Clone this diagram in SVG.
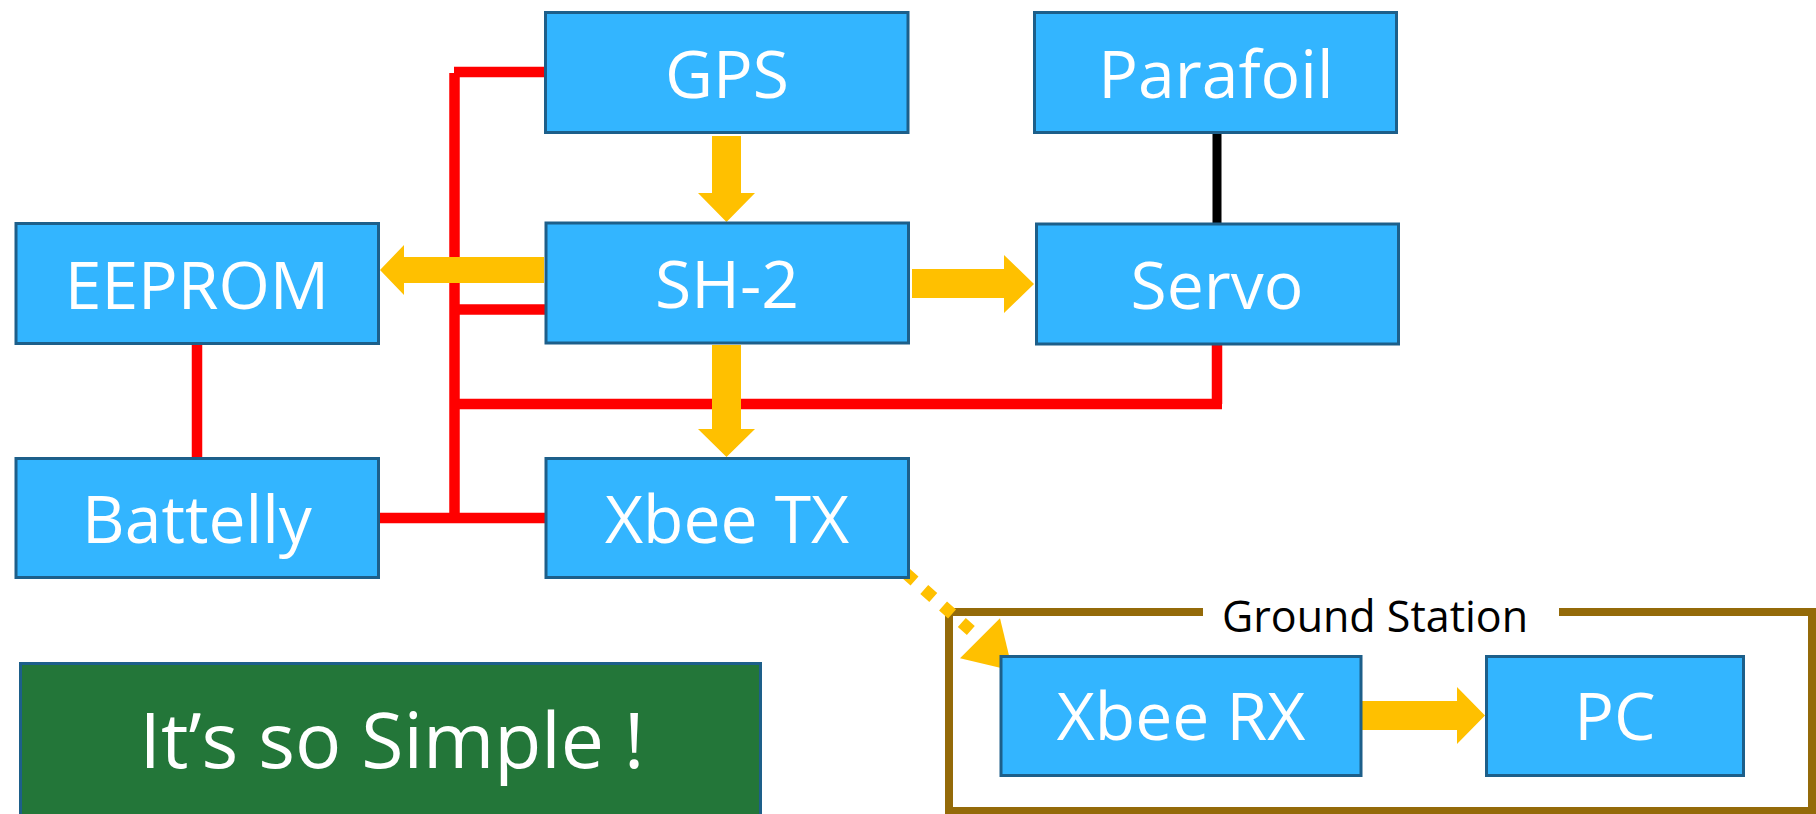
<svg xmlns="http://www.w3.org/2000/svg" width="1816" height="814" viewBox="0 0 1816 814">
<style>
.box{fill:#33B5FF;stroke:#1D5F8A;stroke-width:3}
.lbl{font-family:"Open Sans","Liberation Sans",sans-serif;font-size:66px;fill:#FFFFFF;text-anchor:middle}
.red{stroke:#FF0000;stroke-width:10.5;fill:none}
.arr{fill:#FFC000}
</style>
<rect width="1816" height="814" fill="#FFFFFF"/>
<g id="ground-station">
<rect x="949" y="612" width="863" height="199" fill="none" stroke="#946A09" stroke-width="8"/>
<rect x="1203" y="596" width="356" height="57" fill="#FFFFFF"/>
<text x="1375" y="632" font-family="'Open Sans','Liberation Sans',sans-serif" font-size="43" fill="#000000" text-anchor="middle">Ground Station</text>
</g>
<g id="connectors">
<line class="red" x1="454" y1="72" x2="545" y2="72"/>
<line class="red" x1="454.5" y1="73" x2="454.5" y2="518"/>
<line class="red" x1="454" y1="309.5" x2="545" y2="309.5"/>
<line class="red" x1="1217" y1="345" x2="1217" y2="404"/>
<line class="red" x1="454" y1="404" x2="1222" y2="404"/>
<line class="red" x1="379" y1="518" x2="545" y2="518"/>
<line class="red" x1="197" y1="345" x2="197" y2="458"/>
<line x1="1217" y1="134" x2="1217" y2="223" stroke="#000000" stroke-width="9"/>
<polygon class="arr" points="712,136 741,136 741,193 755,193 726.5,222 698,193 712,193"/>
<polygon class="arr" points="712,345 741,345 741,429 755,429 726.5,457 698,429 712,429"/>
<polygon class="arr" points="544,257 544,283 404,283 404,295 380,270 404,245 404,257"/>
<polygon class="arr" points="912,269 1004,269 1004,255 1034,284 1004,313 1004,298 912,298"/>
<polygon class="arr" points="1362,701 1457,701 1457,687 1485,715.5 1457,744 1457,730 1362,730"/>
<line x1="905.5" y1="573" x2="972" y2="631.5" stroke="#FFC000" stroke-width="12" stroke-dasharray="12 13"/>
<polygon class="arr" points="1000,618.3 1012.7,670.7 960,658.3"/>
</g>
<g id="gps"><rect class="box" x="545.5" y="12.5" width="362.5" height="120"/><text class="lbl" x="727" y="98">GPS</text></g>
<g id="parafoil"><rect class="box" x="1034.5" y="12.5" width="362" height="120"/><text class="lbl" x="1216" y="98">Parafoil</text></g>
<g id="eeprom"><rect class="box" x="16" y="223.5" width="362.5" height="120"/><text class="lbl" x="197" y="309">EEPROM</text></g>
<g id="sh2"><rect class="box" x="546" y="223" width="362.5" height="120"/><text class="lbl" x="727" y="308">SH-2</text></g>
<g id="servo"><rect class="box" x="1036.5" y="224" width="362" height="120"/><text class="lbl" x="1217" y="309">Servo</text></g>
<g id="battelly"><rect class="box" x="16" y="458.5" width="362.5" height="119"/><text class="lbl" x="197" y="543">Battelly</text></g>
<g id="xbee-tx"><rect class="box" x="546" y="458.5" width="362.5" height="119"/><text class="lbl" x="727" y="543">Xbee TX</text></g>
<g id="xbee-rx"><rect class="box" x="1001" y="656.5" width="360" height="119"/><text class="lbl" x="1181" y="740">Xbee RX</text></g>
<g id="pc"><rect class="box" x="1486.5" y="656.5" width="257" height="119"/><text class="lbl" x="1615" y="740">PC</text></g>
<g id="simple"><rect x="20.5" y="663.5" width="740" height="170" fill="#237639" stroke="#1D5F8A" stroke-width="3"/><text x="392" y="768" font-family="'Open Sans','Liberation Sans',sans-serif" font-size="77" fill="#FFFFFF" text-anchor="middle">It’s so Simple !</text></g>
</svg>
